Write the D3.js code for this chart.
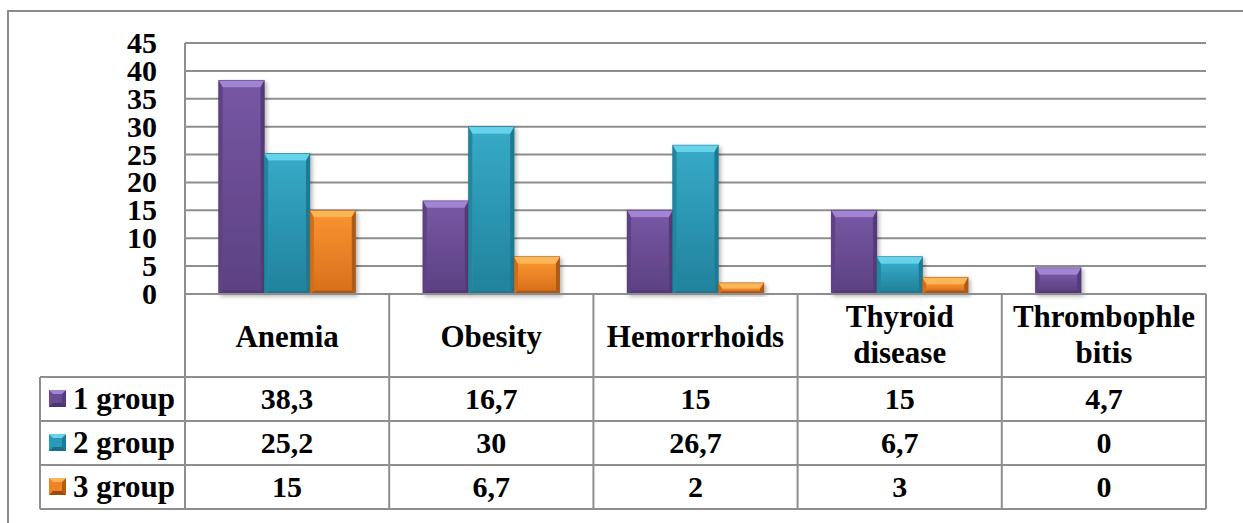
<!DOCTYPE html>
<html><head><meta charset="utf-8">
<script src="https://cdn.jsdelivr.net/npm/d3@7"></script>
<style>html,body{margin:0;padding:0;background:#fff;overflow:hidden}</style>
</head><body>
<svg id="c" width="1243" height="523"></svg>
<script>
const categories = ["Anemia","Obesity","Hemorrhoids","Thyroid disease","Thrombophlebitis"];
const headerLines = [["Anemia"],["Obesity"],["Hemorrhoids"],["Thyroid","disease"],["Thrombophle","bitis"]];
const seriesNames = ["1 group","2 group","3 group"];
const group1 = [38.3,16.7,15,15,4.7];
const group2 = [25.2,30,26.7,6.7,0];
const group3 = [15,6.7,2,3,0];
const yTicks = [0,5,10,15,20,25,30,35,40,45];

const seriesVals = [group1, group2, group3];
const palette = [
  {base:"#6b4c93", top:"#a184d2", dark:"#4c3470", side:"#5e4284", face0:"#7656a2", face1:"#5c4183"},
  {base:"#2a9ab8", top:"#66d3ea", dark:"#1a6f88", side:"#23869f", face0:"#35a9c6", face1:"#22829d"},
  {base:"#ee8426", top:"#fbb654", dark:"#9a4c10", side:"#d06e1c", face0:"#f7922f", face1:"#d9701c"}
];
const gridColor = "#8e8e8e";
const font = "'Liberation Serif','Times New Roman',serif";

const svg = d3.select("#c");
const defs = svg.append("defs");
const f = defs.append("filter").attr("id","sh").attr("x","-20%").attr("y","-20%").attr("width","140%").attr("height","140%");
f.append("feDropShadow").attr("dx",2).attr("dy",2).attr("stdDeviation",2).attr("flood-color","#000").attr("flood-opacity",0.3);
palette.forEach((p,i)=>{
  const g = defs.append("linearGradient").attr("id","g"+i).attr("x1",0).attr("y1",0).attr("x2",0).attr("y2",1);
  g.append("stop").attr("offset","0%").attr("stop-color",p.face0);
  g.append("stop").attr("offset","100%").attr("stop-color",p.face1);
});

// outer frame
svg.append("rect").attr("x",8).attr("y",11).attr("width",1300).attr("height",600)
  .attr("fill","none").attr("stroke","#8a8a8a").attr("stroke-width",2);

const plotL = 185, plotR = 1206, plotT = 43, plotB = 294;
const x = d3.scaleBand().domain(categories).range([plotL, plotR]).padding(0);
const xs = d3.scaleBand().domain(seriesNames).range([0, x.bandwidth()]).paddingInner(0).paddingOuter(0.739);
const y = d3.scaleLinear().domain([0,45]).range([plotB, plotT]);

// gridlines
svg.append("g").selectAll("line").data(yTicks).join("line")
  .attr("x1",plotL).attr("x2",plotR).attr("y1",d=>y(d)).attr("y2",d=>y(d))
  .attr("stroke",gridColor).attr("stroke-width",2);
svg.append("line").attr("x1",plotL).attr("x2",plotL).attr("y1",plotT).attr("y2",plotB)
  .attr("stroke",gridColor).attr("stroke-width",2);

// y tick labels
svg.append("g").selectAll("text").data(yTicks).join("text")
  .attr("x",157).attr("y",d=>y(d)+10)
  .attr("text-anchor","end").attr("font-family",font).attr("font-weight","bold")
  .attr("font-size",30).attr("fill","#000").text(d=>d);

function bevelBar(g, bx, by, w, h, p){
  if (h <= 0) return;
  const b = Math.min(7, h/2, w/2);
  const s = Math.min(4, w/4);
  const grp = g.append("g").attr("filter","url(#sh)");
  grp.append("rect").attr("x",bx).attr("y",by).attr("width",w).attr("height",h).attr("fill",p.base);
  // left side
  grp.append("polygon").attr("points",[[bx,by],[bx+s,by+b],[bx+s,by+h-b*0.5],[bx,by+h]].join(" ")).attr("fill",p.side);
  // right side
  grp.append("polygon").attr("points",[[bx+w,by],[bx+w-s,by+b],[bx+w-s,by+h-b*0.5],[bx+w,by+h]].join(" ")).attr("fill",p.dark).attr("opacity",0.75);
  // face
  grp.append("rect").attr("x",bx+s).attr("y",by+b).attr("width",Math.max(0,w-2*s)).attr("height",Math.max(0,h-b*1.5)).attr("fill","url(#g"+palette.indexOf(p)+")");
  // bottom
  grp.append("polygon").attr("points",[[bx,by+h],[bx+s,by+h-b*0.5],[bx+w-s,by+h-b*0.5],[bx+w,by+h]].join(" ")).attr("fill",p.dark).attr("opacity",0.8);
  // top
  grp.append("polygon").attr("points",[[bx,by],[bx+w,by],[bx+w-s,by+b],[bx+s,by+b]].join(" ")).attr("fill",p.top);
  grp.append("rect").attr("x",bx).attr("y",by).attr("width",w).attr("height",h).attr("fill","none").attr("stroke",p.dark).attr("stroke-width",0.8).attr("stroke-opacity",0.6);
}

const barsG = svg.append("g");
categories.forEach((c,ci)=>{
  seriesNames.forEach((s,si)=>{
    const v = seriesVals[si][ci];
    const bx = x(c) + xs(s);
    bevelBar(barsG, bx, y(v), xs.bandwidth(), y(0)-y(v), palette[si]);
  });
});

// data table
const tableL = 40;
const rowTops = [294, 377, 421, 465, 509];
const tg = svg.append("g");
const line = (x1,y1,x2,y2)=>tg.append("line").attr("x1",x1).attr("y1",y1).attr("x2",x2).attr("y2",y2).attr("stroke",gridColor).attr("stroke-width",2);
line(plotL, rowTops[0], plotR, rowTops[0]);
for (let i=1;i<rowTops.length;i++) line(tableL, rowTops[i], plotR, rowTops[i]);
line(tableL, rowTops[1], tableL, rowTops[4]);
categories.forEach(c=>line(x(c), rowTops[0], x(c), rowTops[4]));
line(plotR, rowTops[0], plotR, rowTops[4]);

// header
categories.forEach((c,ci)=>{
  const lines = headerLines[ci];
  const cx = x(c) + x.bandwidth()/2;
  const baselines = lines.length === 1 ? [347] : [327, 363];
  lines.forEach((t,li)=>{
    tg.append("text").attr("x",cx).attr("y",baselines[li]).attr("text-anchor","middle")
      .attr("font-family",font).attr("font-weight","bold").attr("font-size",31).attr("fill","#000").text(t);
  });
});

const fmt = v => String(v).replace(".", ",");
seriesNames.forEach((s,si)=>{
  const top = rowTops[si+1], bot = rowTops[si+2];
  const cy = (top+bot)/2;
  // legend marker
  const mg = tg.append("g");
  bevelMarker(mg, 49, cy-9, 17, 17, palette[si]);
  tg.append("text").attr("x",73).attr("y",cy+10).attr("font-family",font).attr("font-weight","bold")
    .attr("font-size",31).attr("fill","#000").text(s);
  categories.forEach((c,ci)=>{
    tg.append("text").attr("x",x(c)+x.bandwidth()/2).attr("y",cy+10).attr("text-anchor","middle")
      .attr("font-family",font).attr("font-weight","bold").attr("font-size",30).attr("fill","#000")
      .text(fmt(seriesVals[si][ci]));
  });
});

function bevelMarker(g, bx, by, w, h, p){
  const b = 4;
  g.append("rect").attr("x",bx).attr("y",by).attr("width",w).attr("height",h).attr("fill",p.base);
  g.append("polygon").attr("points",[[bx,by+h],[bx+b,by+h-b],[bx+w-b,by+h-b],[bx+w,by+h]].join(" ")).attr("fill",p.dark);
  g.append("polygon").attr("points",[[bx+w,by],[bx+w-b,by+b],[bx+w-b,by+h-b],[bx+w,by+h]].join(" ")).attr("fill",p.dark).attr("opacity",0.7);
  g.append("polygon").attr("points",[[bx,by],[bx+w,by],[bx+w-b,by+b],[bx+b,by+b]].join(" ")).attr("fill",p.top);
}
</script>
</body></html>
